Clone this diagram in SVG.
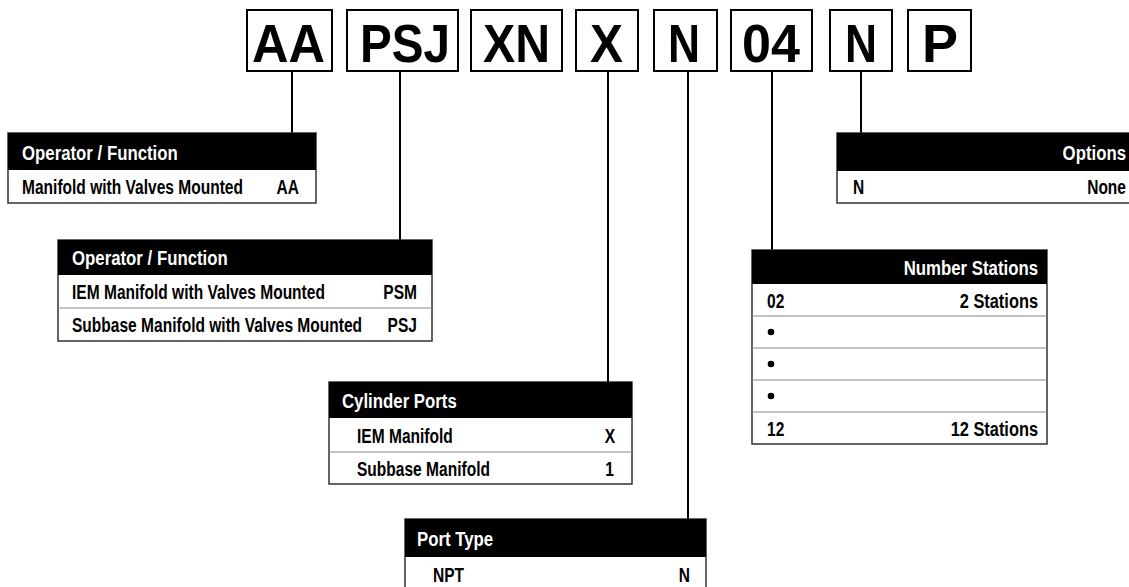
<svg xmlns="http://www.w3.org/2000/svg" width="1129" height="587" viewBox="0 0 1129 587">
<style>
.bg{fill:#fff}
.code{fill:#fff;stroke:#000;stroke-width:2}
.codet{font-family:"Liberation Sans",Arial,sans-serif;font-weight:bold;font-size:53px;fill:#000}
.tbl{fill:#fff;stroke:#333;stroke-width:1.5}
.hdr{fill:#000}
.sep{stroke:#888;stroke-width:1}
.ht{font-family:"Liberation Sans",Arial,sans-serif;font-weight:bold;font-size:21px;fill:#fff}
.rt{font-family:"Liberation Sans",Arial,sans-serif;font-weight:bold;font-size:21px;fill:#000}
.end{text-anchor:end}
.conn{stroke:#000;stroke-width:2;fill:none}
</style>
<rect class="bg" x="0" y="0" width="1129" height="587"/>
<g id="connectors">
<line class="conn" x1="292" y1="71" x2="292" y2="133"/>
<line class="conn" x1="400" y1="71" x2="400" y2="240"/>
<line class="conn" x1="608" y1="71" x2="608" y2="382"/>
<line class="conn" x1="688" y1="71" x2="688" y2="519"/>
<line class="conn" x1="772" y1="71" x2="772" y2="250"/>
<line class="conn" x1="861" y1="71" x2="861" y2="133"/>
</g>
<g id="code-AA"><rect class="code" x="247" y="10" width="85" height="61"/><text class="codet" x="252" y="62" textLength="73" lengthAdjust="spacingAndGlyphs">AA</text></g>
<g id="code-PSJ"><rect class="code" x="347" y="10" width="111" height="61"/><text class="codet" x="360" y="62" textLength="90" lengthAdjust="spacingAndGlyphs">PSJ</text></g>
<g id="code-XN"><rect class="code" x="471" y="10" width="91" height="61"/><text class="codet" x="483" y="62" textLength="67" lengthAdjust="spacingAndGlyphs">XN</text></g>
<g id="code-X"><rect class="code" x="576" y="10" width="62" height="61"/><text class="codet" x="590" y="62" textLength="33" lengthAdjust="spacingAndGlyphs">X</text></g>
<g id="code-N1"><rect class="code" x="654" y="10" width="63" height="61"/><text class="codet" x="668" y="62" textLength="32" lengthAdjust="spacingAndGlyphs">N</text></g>
<g id="code-04"><rect class="code" x="731" y="10" width="81" height="61"/><text class="codet" x="742" y="62" textLength="58" lengthAdjust="spacingAndGlyphs">04</text></g>
<g id="code-N2"><rect class="code" x="830" y="10" width="62" height="61"/><text class="codet" x="845" y="62" textLength="32" lengthAdjust="spacingAndGlyphs">N</text></g>
<g id="code-P"><rect class="code" x="908" y="10" width="63" height="61"/><text class="codet" x="922" y="62" textLength="36" lengthAdjust="spacingAndGlyphs">P</text></g>

<g id="table-operator1">
<rect class="tbl" x="8" y="133" width="308" height="70"/>
<rect class="hdr" x="8" y="133" width="308" height="37"/>
<text class="ht" transform="translate(22,159.5) scale(0.8,1)">Operator / Function</text>
<text class="rt" transform="translate(22,194) scale(0.74,1)">Manifold with Valves Mounted</text>
<text class="rt end" transform="translate(299,194) scale(0.74,1)">AA</text>
</g>

<g id="table-operator2">
<rect class="tbl" x="58" y="240" width="374" height="101"/>
<rect class="hdr" x="58" y="240" width="374" height="35"/>
<line class="sep" x1="58" y1="308" x2="432" y2="308"/>
<text class="ht" transform="translate(72,265) scale(0.8,1)">Operator / Function</text>
<text class="rt" transform="translate(72,298.5) scale(0.74,1)">IEM Manifold with Valves Mounted</text>
<text class="rt end" transform="translate(417,298.5) scale(0.74,1)">PSM</text>
<text class="rt" transform="translate(72,331.5) scale(0.74,1)">Subbase Manifold with Valves Mounted</text>
<text class="rt end" transform="translate(417,331.5) scale(0.74,1)">PSJ</text>
</g>

<g id="table-cylinder">
<rect class="tbl" x="329" y="382" width="303" height="102"/>
<rect class="hdr" x="329" y="382" width="303" height="36"/>
<line class="sep" x1="329" y1="452" x2="632" y2="452"/>
<text class="ht" transform="translate(342,408) scale(0.8,1)">Cylinder Ports</text>
<text class="rt" transform="translate(357,442.5) scale(0.74,1)">IEM Manifold</text>
<text class="rt end" transform="translate(615,442.5) scale(0.74,1)">X</text>
<text class="rt" transform="translate(357,475.5) scale(0.74,1)">Subbase Manifold</text>
<text class="rt end" transform="translate(614,475.5) scale(0.74,1)">1</text>
</g>

<g id="table-porttype">
<rect class="tbl" x="405" y="519" width="301" height="80"/>
<rect class="hdr" x="405" y="519" width="301" height="38"/>
<text class="ht" transform="translate(417,545.5) scale(0.8,1)">Port Type</text>
<text class="rt" transform="translate(433,582) scale(0.74,1)">NPT</text>
<text class="rt end" transform="translate(690,582) scale(0.74,1)">N</text>
</g>

<g id="table-stations">
<rect class="tbl" x="752" y="250" width="295" height="194"/>
<rect class="hdr" x="752" y="250" width="295" height="34"/>
<line class="sep" x1="752" y1="316" x2="1047" y2="316"/>
<line class="sep" x1="752" y1="348" x2="1047" y2="348"/>
<line class="sep" x1="752" y1="380" x2="1047" y2="380"/>
<line class="sep" x1="752" y1="412" x2="1047" y2="412"/>
<text class="ht end" transform="translate(1038,274.5) scale(0.8,1)">Number Stations</text>
<text class="rt" transform="translate(767,307.5) scale(0.74,1)">02</text>
<text class="rt end" transform="translate(1038,307.5) scale(0.78,1)">2 Stations</text>
<circle cx="771" cy="332" r="3.3" fill="#000"/>
<circle cx="771" cy="364" r="3.3" fill="#000"/>
<circle cx="771" cy="396" r="3.3" fill="#000"/>
<text class="rt" transform="translate(767,435.5) scale(0.74,1)">12</text>
<text class="rt end" transform="translate(1038,435.5) scale(0.78,1)">12 Stations</text>
</g>

<g id="table-options">
<rect class="tbl" x="837" y="133" width="300" height="70"/>
<rect class="hdr" x="837" y="133" width="300" height="38"/>
<text class="ht end" transform="translate(1126,159.5) scale(0.8,1)">Options</text>
<text class="rt" transform="translate(853,194) scale(0.74,1)">N</text>
<text class="rt end" transform="translate(1126,194) scale(0.74,1)">None</text>
</g>
</svg>
